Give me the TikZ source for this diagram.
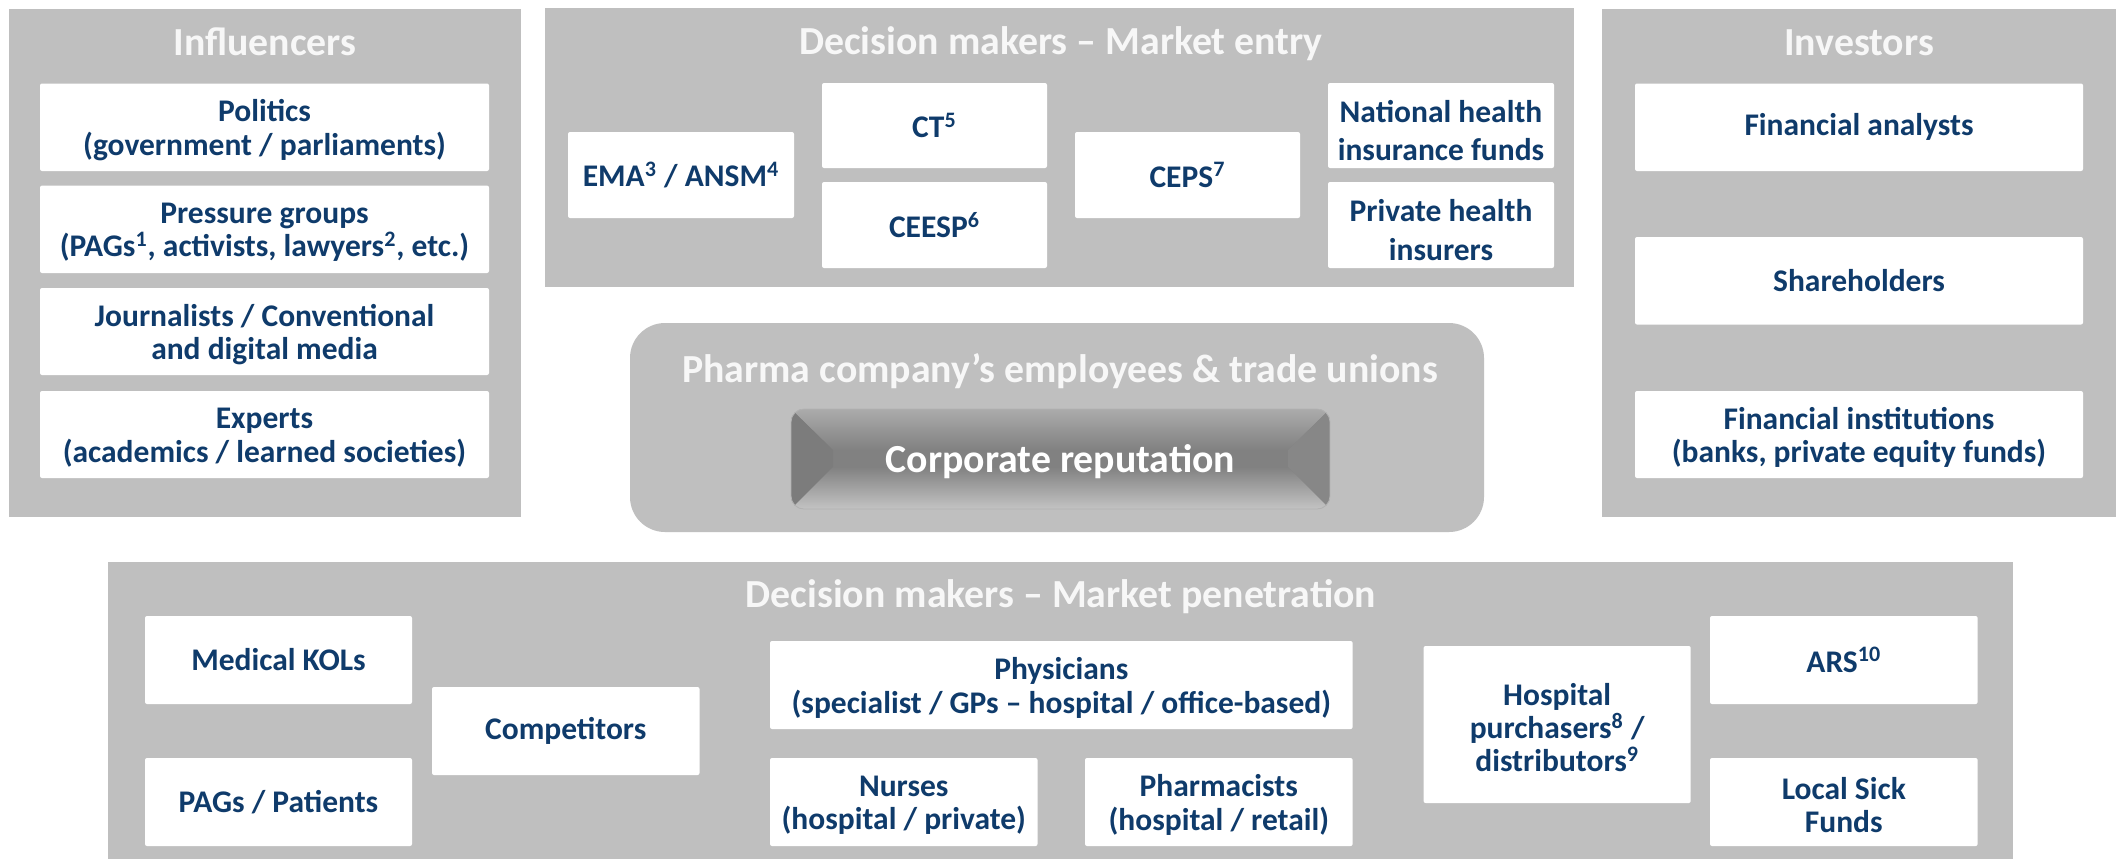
\documentclass[tikz,border=0pt]{standalone}
\usepackage{fontspec}
\setmainfont{Carlito}
\definecolor{panel}{HTML}{BFBFBF}
\definecolor{tblue}{HTML}{0F3B6B}
\definecolor{ttlc}{HTML}{F7F7F7}
\definecolor{cbase}{HTML}{818181}
\definecolor{cleft}{HTML}{7C7C7C}
\definecolor{cright}{HTML}{878787}
\tikzset{
  box/.style={fill=white, rounded corners=1pt, inner sep=0pt},
  boxtext/.style={inner sep=0pt, align=center, text=tblue,
    font=\bfseries\fontsize{15.75pt}{16.7pt}\selectfont},
  ml/.style={yshift=-1.5pt},
  widebox/.style={font=\bfseries\fontsize{15.75pt}{19.2pt}\selectfont, yshift=-2.5pt},
  panelbox/.style={fill=panel, sharp corners, inner sep=0pt},
  roundpanel/.style={fill=panel, rounded corners=17.5pt, inner sep=0pt},
  ttl/.style={text=ttlc, font=\bfseries\fontsize{19.9pt}{24pt}\selectfont, anchor=base, inner sep=0pt},
}
% box: [text style]{name}{x1}{y1}{x2}{y2}{text}
\newcommand\rbox[7][]{%
  \node[box,minimum width={(#5-#3)*0.5pt},minimum height={(#6-#4)*0.5pt}] (#2) at ({(#3+#5)/2},{(#4+#6)/2}) {};
  \node[boxtext,#1] (#2-t) at (#2.center) {#7};}
% panel: [style]{name}{x1}{y1}{x2}{y2}
\newcommand\rpanel[6][panelbox]{%
  \node[#1,minimum width={(#5-#3)*0.5pt},minimum height={(#6-#4)*0.5pt}] (#2) at ({(#3+#5)/2},{(#4+#6)/2}) {};}
\begin{document}
\begin{tikzpicture}[x=0.5pt,y=-0.5pt]
\useasboundingbox (0,0) rectangle (2121,859);
\fill[white] (0,0) rectangle (2121,859);

% ---- Influencers
\rpanel{pinf}{9}{9}{521}{517}
\node[ttl] (tinf) at (265,55) {Influencers};
\rbox[ml]{politics}{40}{83.5}{489}{171}{Politics\\(government / parliaments)}
\rbox[ml]{pressure}{40}{185.6}{489}{273}{Pressure groups\\(PAGs\textsuperscript{1}, activists, lawyers\textsuperscript{2}, etc.)}
\rbox[ml]{journal}{40}{288}{489}{375}{Journalists / Conventional\\and digital media}
\rbox[ml]{experts}{40}{391}{489}{478}{Experts\\(academics / learned societies)}

% ---- Market entry
\rpanel{pentry}{545}{8}{1574}{287}
\node[ttl] (tentry) at (1061,54) {Decision makers – Market entry};
\rbox{ema}{568}{132}{794}{218}{EMA\textsuperscript{3} / ANSM\textsuperscript{4}}
\rbox{ct}{822}{83}{1047}{168}{CT\textsuperscript{5}}
\rbox{ceesp}{822}{182}{1047}{268}{CEESP\textsuperscript{6}}
\rbox{ceps}{1075}{132}{1300}{218}{CEPS\textsuperscript{7}}
\rbox[widebox]{national}{1328}{83}{1554}{168}{National health\\insurance funds}
\rbox[widebox]{private}{1328}{182}{1554}{268}{Private health\\insurers}

% ---- Investors
\rpanel{pinv}{1602}{9}{2116}{517}
\node[ttl] (tinv) at (1859,55) {Investors};
\rbox{analysts}{1635}{83.5}{2083}{171}{Financial analysts}
\rbox{share}{1635}{237}{2083}{324.5}{Shareholders}
\rbox[ml]{institutions}{1635}{391}{2083}{478}{Financial institutions\\(banks, private equity funds)}

% ---- Central
\rpanel[roundpanel]{pcentral}{630}{323}{1484}{532}
\node[ttl] (tcentral) at (1060,382) {Pharma company’s employees \& trade unions};
\begin{scope}
  \clip[rounded corners=6.5pt] (791,409) rectangle (1330,509);
  \fill[cbase] (791,409) rectangle (1330,509);
  \shade[top color=gray!66, bottom color=cbase] (791,409) -- (1330,409) -- (1288,450) -- (833,450) -- cycle;
  \fill[cleft] (791,409) -- (833,450) -- (833,467) -- (791,509) -- cycle;
  \fill[cright] (1330,409) -- (1288,450) -- (1288,467) -- (1330,509) -- cycle;
  \shade[top color=cbase, bottom color=gray!47] (791,509) -- (833,467) -- (1288,467) -- (1330,509) -- cycle;
\end{scope}
\draw[gray!60, line width=0.4pt, rounded corners=6.5pt] (791,409) rectangle (1330,509);
\node[ttl, text=white] (corp) at (1060.5,472) {Corporate reputation};

% ---- Market penetration
\rpanel{ppen}{108}{562}{2013}{859}
\node[ttl] (tpen) at (1061,607) {Decision makers – Market penetration};
\rbox{kols}{145}{616}{412}{704}{Medical KOLs}
\rbox{pags}{145}{758}{412}{846}{PAGs / Patients}
\rbox{competitors}{432}{687}{699.5}{775}{Competitors}
\rbox[ml]{physicians}{770}{641}{1352.6}{729}{Physicians\\(specialist / GPs – hospital / office-based)}
\rbox[ml]{nurses}{770}{758}{1037.5}{846}{Nurses\\(hospital / private)}
\rbox[ml]{pharmacists}{1085}{758}{1352.6}{846}{Pharmacists\\(hospital / retail)}
\rbox[ml]{hospital}{1423.6}{646}{1690.7}{803}{Hospital\\purchasers\textsuperscript{8} /\\distributors\textsuperscript{9}}
\rbox{ars}{1710}{616}{1977.6}{704}{ARS\textsuperscript{10}}
\rbox[ml]{local}{1710}{758}{1977.6}{846}{Local Sick\\Funds}
\end{tikzpicture}
\end{document}
